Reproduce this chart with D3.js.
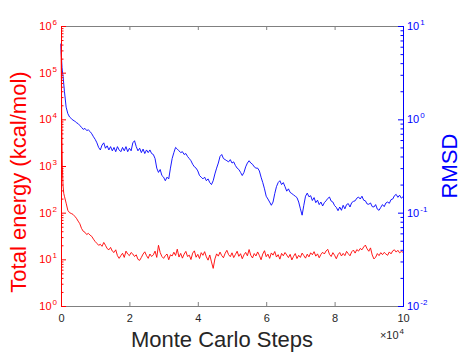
<!DOCTYPE html>
<html>
<head>
<meta charset="utf-8">
<script src="https://cdn.jsdelivr.net/npm/d3@7"></script>
<style>
  body { margin: 0; background: #fff; }
  svg { font-family: "Liberation Sans", Arial, sans-serif; }
</style>
</head>
<body>
<svg id="chart"></svg>
<script>
// Monte Carlo steps: a few early samples, then every 500 steps
const earlySteps = [0, 100, 200, 300, 400, 600, 800];
const steps = earlySteps.concat(d3.range(1000, 100001, 500));

// total energy (kcal/mol), left axis
const energy = [
  410000, 90000, 15000, 3000, 900, 380, 260,
  225, 160, 112, 100, 96, 92, 84, 76, 66, 58,
  46, 40, 38, 34, 36, 33, 31, 27, 24, 22,
  20, 21, 19, 23, 20, 17, 16, 18, 15, 14,
  16, 12, 10.5, 12, 13.5, 11, 15, 13, 12, 14,
  13, 11.5, 12.5, 10, 9.5, 11, 13, 14.5, 12, 10.5,
  13, 11.5, 12.5, 15, 11, 20, 14, 11.5, 10.5, 12,
  13, 9.8, 12.5, 11.8, 14.2, 12.1, 16.5, 11.2, 13.4, 10.6,
  12.9, 14.8, 11.5, 12.3, 9.9, 13.6, 15.2, 11.1, 12.8, 10.4,
  13.9, 12.2, 14.6, 11.3, 9.6, 12.4, 8.8, 6.4, 10.2, 13.1,
  11.7, 14.3, 12.0, 10.8, 13.5, 15.6, 12.6, 11.4, 13.8, 10.9,
  12.7, 14.9, 11.6, 13.2, 10.3, 12.5, 14.1, 11.9, 16.2, 12.2,
  10.7, 13.3, 11.8, 14.4, 12.1, 9.8, 13.0, 15.3, 11.4, 12.9,
  10.5, 13.7, 12.3, 14.7, 11.2, 12.6, 10.1, 13.4, 11.9, 14.0,
  12.4, 10.9, 12.8, 9.7, 11.6, 13.3, 10.4, 12.2, 11.0, 13.6,
  12.0, 10.6, 12.9, 11.3, 13.8, 12.5, 14.6, 11.7, 13.1, 10.8,
  12.7, 14.2, 13.0, 15.1, 16.4, 12.8, 11.5, 13.9, 12.2, 10.3,
  12.6, 14.0, 11.8, 13.4, 12.0, 14.8, 13.2, 11.9, 14.5, 15.8,
  13.6, 16.2, 15.0, 17.1, 16.0, 18.4, 20.2, 16.8, 14.9, 17.6,
  12.4, 10.2, 11.1, 13.3, 12.0, 13.9, 12.6, 14.1, 13.0, 12.2,
  14.4, 13.1, 15.2, 16.0, 14.3, 15.6, 13.8, 14.7, 14.2
];

// RMSD, right axis
const rmsd = [
  6.5, 5.0, 4.2, 3.6, 3.3, 2.9, 2.4,
  2.0, 1.35, 1.15, 1.06, 1.02, 0.98, 0.96, 0.92, 0.9, 0.86,
  0.82, 0.78, 0.8, 0.76, 0.77, 0.74, 0.7, 0.65, 0.61, 0.56,
  0.5, 0.47, 0.53, 0.56, 0.49, 0.52, 0.47, 0.51, 0.46, 0.5,
  0.45, 0.51, 0.47, 0.45, 0.5, 0.46, 0.51, 0.45, 0.49, 0.46,
  0.56, 0.59, 0.51, 0.46, 0.49, 0.44, 0.48, 0.43, 0.47, 0.44,
  0.47, 0.43, 0.42, 0.38, 0.3, 0.27, 0.29, 0.25, 0.24, 0.22,
  0.24, 0.23, 0.3, 0.38, 0.44, 0.5, 0.48, 0.46, 0.44, 0.45,
  0.42, 0.43, 0.4, 0.38, 0.36, 0.33, 0.31, 0.3, 0.28, 0.25,
  0.24, 0.23, 0.24, 0.22, 0.23, 0.21, 0.2, 0.22, 0.26, 0.3,
  0.34, 0.4, 0.42, 0.38, 0.37, 0.36, 0.35, 0.37, 0.34, 0.35,
  0.32, 0.3, 0.29, 0.27, 0.25, 0.27, 0.31, 0.34, 0.36, 0.34,
  0.33, 0.31, 0.3, 0.3, 0.28, 0.24, 0.21, 0.18, 0.15, 0.14,
  0.13, 0.12, 0.13, 0.16, 0.19, 0.21, 0.22, 0.2, 0.21, 0.19,
  0.17, 0.18, 0.165, 0.16, 0.155, 0.15, 0.145, 0.13, 0.11, 0.094,
  0.12, 0.15, 0.162, 0.148, 0.152, 0.135, 0.145, 0.128, 0.136, 0.122,
  0.13, 0.118, 0.128, 0.134, 0.142, 0.147, 0.133, 0.13, 0.119, 0.114,
  0.105, 0.115, 0.106, 0.12, 0.11, 0.122, 0.125, 0.115, 0.128, 0.132,
  0.134, 0.143, 0.147, 0.14, 0.15, 0.136, 0.134, 0.124, 0.123, 0.127,
  0.116, 0.115, 0.122, 0.109, 0.106, 0.114, 0.122, 0.116, 0.127, 0.13,
  0.126, 0.138, 0.14, 0.152, 0.157, 0.146, 0.154, 0.143, 0.148
];

const xTicks = [0, 20000, 40000, 60000, 80000, 100000];
const leftExponents = [0, 1, 2, 3, 4, 5, 6];
const rightExponents = [-2, -1, 0, 1];

const width = 463,
  height = 353,
  plotLeft = 61,
  plotRight = 403,
  plotTop = 26,
  plotBottom = 306,
  red = "#ff0000",
  blue = "#0000ff",
  dark = "#262626";

const svg = d3.select("#chart").attr("width", width).attr("height", height);

const x = d3.scaleLinear().domain([0, 100000]).range([plotLeft, plotRight]);
const yEnergy = d3.scaleLog().domain([1, 1e6]).range([plotBottom, plotTop]);
const yRmsd = d3.scaleLog().domain([0.01, 10]).range([plotBottom, plotTop]);

function minorTicks(lo, hi) {
  const out = [];
  for (let e = lo; e < hi; e++) {
    for (let m = 2; m <= 9; m++) out.push(m * Math.pow(10, e));
  }
  return out;
}

// lines
const energyLine = d3.line().x((d, i) => x(steps[i])).y(d => yEnergy(d));
const rmsdLine = d3.line().x((d, i) => x(steps[i])).y(d => yRmsd(d));

svg.append("path")
  .datum(energy)
  .attr("fill", "none")
  .attr("stroke", red)
  .attr("stroke-width", 0.9)
  .attr("d", energyLine);

svg.append("path")
  .datum(rmsd)
  .attr("fill", "none")
  .attr("stroke", blue)
  .attr("stroke-width", 0.9)
  .attr("d", rmsdLine);

// bottom and top axes
const xAxis = d3.axisBottom(x).tickValues(xTicks).tickSize(-4).tickPadding(8)
  .tickFormat(d => d / 10000);
const gx = svg.append("g")
  .attr("transform", "translate(0," + plotBottom + ")")
  .call(xAxis);
gx.selectAll("text").attr("fill", dark).style("font-size", "11px");
gx.selectAll("line, path").attr("stroke", "#808080");

const gTop = svg.append("g")
  .attr("transform", "translate(0," + plotTop + ")")
  .call(d3.axisTop(x).tickValues(xTicks).tickSize(-4).tickFormat(""));
gTop.selectAll("line, path").attr("stroke", "#808080");

// left (energy) axis
const gl = svg.append("g").attr("transform", "translate(" + plotLeft + ",0)");
gl.call(d3.axisLeft(yEnergy).tickValues(minorTicks(0, 6)).tickSize(-2.5).tickFormat(""));
gl.append("g").call(d3.axisLeft(yEnergy).tickValues(leftExponents.map(e => Math.pow(10, e)))
  .tickSize(-5).tickFormat(""));
gl.selectAll("line, path").attr("stroke", red);

svg.append("g").selectAll("text")
  .data(leftExponents)
  .join("text")
  .attr("x", plotLeft - 4)
  .attr("y", e => yEnergy(Math.pow(10, e)) + 4)
  .attr("text-anchor", "end")
  .attr("fill", red)
  .style("font-size", "11px")
  .each(function(e) {
    const t = d3.select(this);
    t.append("tspan").text("10");
    t.append("tspan").attr("dy", -5).attr("dx", 1).style("font-size", "8px").text(e);
  });

// right (rmsd) axis
const gr = svg.append("g").attr("transform", "translate(" + plotRight + ",0)");
gr.call(d3.axisRight(yRmsd).tickValues(minorTicks(-2, 1)).tickSize(-2.5).tickFormat(""));
gr.append("g").call(d3.axisRight(yRmsd).tickValues(rightExponents.map(e => Math.pow(10, e)))
  .tickSize(-5).tickFormat(""));
gr.selectAll("line, path").attr("stroke", blue);

svg.append("g").selectAll("text")
  .data(rightExponents)
  .join("text")
  .attr("x", plotRight + 4)
  .attr("y", e => yRmsd(Math.pow(10, e)) + 4)
  .attr("text-anchor", "start")
  .attr("fill", blue)
  .style("font-size", "11px")
  .each(function(e) {
    const t = d3.select(this);
    t.append("tspan").text("10");
    t.append("tspan").attr("dy", -5).attr("dx", 1).style("font-size", "8px").text(e);
  });

// x exponent
const ex = svg.append("text")
  .attr("x", plotRight + 1)
  .attr("y", 339)
  .attr("text-anchor", "end")
  .attr("fill", dark)
  .style("font-size", "11px");
ex.append("tspan").text("\u00d710");
ex.append("tspan").attr("dy", -5).attr("dx", 1).style("font-size", "8px").text("4");

// titles
svg.append("text")
  .attr("x", 222)
  .attr("y", 347)
  .attr("text-anchor", "middle")
  .attr("fill", dark)
  .style("font-size", "22px")
  .text("Monte Carlo Steps");

svg.append("text")
  .attr("transform", "translate(26,182) rotate(-90)")
  .attr("text-anchor", "middle")
  .attr("fill", red)
  .style("font-size", "22px")
  .text("Total energy (kcal/mol)");

svg.append("text")
  .attr("transform", "translate(457,166) rotate(-90)")
  .attr("text-anchor", "middle")
  .attr("fill", blue)
  .style("font-size", "22px")
  .text("RMSD");
</script>
</body>
</html>
